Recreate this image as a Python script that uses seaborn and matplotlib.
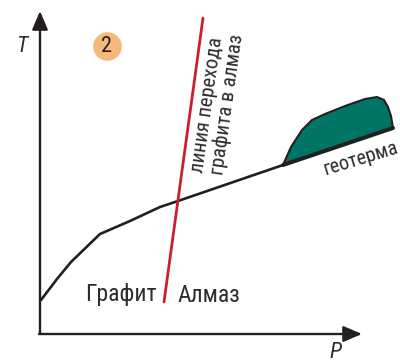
import matplotlib
matplotlib.use("Agg")
import matplotlib.pyplot as plt
import seaborn as sns
from matplotlib.patches import Polygon

sns.set_theme(style="white")
plt.rcParams["font.family"] = ["Roboto Condensed", "Liberation Sans Narrow", "Liberation Sans", "DejaVu Sans"]

# values, in image pixels
geo_p = [41, 57, 71, 100, 130, 160, 178, 283]
geo_t = [300, 279, 262, 234, 221, 207, 201, 165]
geo_hot_p = [283, 393]
geo_hot_t = [165, 128]
line_p = [164, 203]
line_t = [302, 18]
blob_p = [283, 291, 302, 312, 325, 345, 365, 377, 384, 388, 391, 393]
blob_t = [165, 147, 130, 120, 114, 106, 99, 97, 100, 107, 116, 128]

BLACK = "#231f20"
RED = "#c8202f"
GREEN = "#007465"
ORANGE = "#f5b97a"
TEXT = "#2e2c2d"

fig = plt.figure(figsize=(4, 3.62), dpi=100)
ax = fig.add_axes([0, 0, 1, 1])
ax.set_xlim(0, 400)
ax.set_ylim(362, 0)
ax.axis("off")

# зелёная область
ax.add_patch(Polygon(list(zip(blob_p, blob_t)), closed=True, facecolor=GREEN,
                     edgecolor=BLACK, linewidth=1.5, joinstyle="round"))

# оси
arrow = dict(arrowstyle="-|>,head_length=0.75,head_width=0.32", color=BLACK, lw=1.7,
             shrinkA=0, shrinkB=0, mutation_scale=15)
ax.annotate("", xy=(40, 11), xytext=(40, 334), arrowprops=arrow)
ax.annotate("", xy=(362, 334), xytext=(39, 334), arrowprops=arrow)

# линии
sns.lineplot(x=geo_p, y=geo_t, color=BLACK, lw=1.9, sort=False, estimator=None, ax=ax)
sns.lineplot(x=geo_hot_p, y=geo_hot_t, color=BLACK, lw=2.9, sort=False, estimator=None, ax=ax)
sns.lineplot(x=line_p, y=line_t, color=RED, lw=2, sort=False, estimator=None, ax=ax)

# кружок с номером
ax.scatter([107], [46], s=424, color=ORANGE, linewidths=0, zorder=3)
ax.text(106, 47, "2", fontsize=16, color=BLACK, ha="center", va="center", zorder=4)

# подписи
ax.text(22, 46, "T", fontsize=16, style="italic", color=TEXT, ha="center", va="center")
ax.text(335, 353, "P", fontsize=16, style="italic", color=TEXT, ha="center", va="center")
ax.text(121, 295, "Графит", fontsize=17, color=TEXT, ha="center", va="center")
ax.text(209, 295, "Алмаз", fontsize=17, color=TEXT, ha="center", va="center")
ax.text(207.5, 105, "линия перехода", fontsize=14.8, color=TEXT, rotation=82,
        ha="center", va="center", rotation_mode="anchor")
ax.text(227.5, 104, "графита в алмаз", fontsize=14.8, color=TEXT, rotation=82,
        ha="center", va="center", rotation_mode="anchor")
ax.text(361, 159, "геотерма", fontsize=14.5, color=TEXT, rotation=17,
        ha="center", va="center", rotation_mode="anchor")

fig.savefig("out.png", dpi=100)
